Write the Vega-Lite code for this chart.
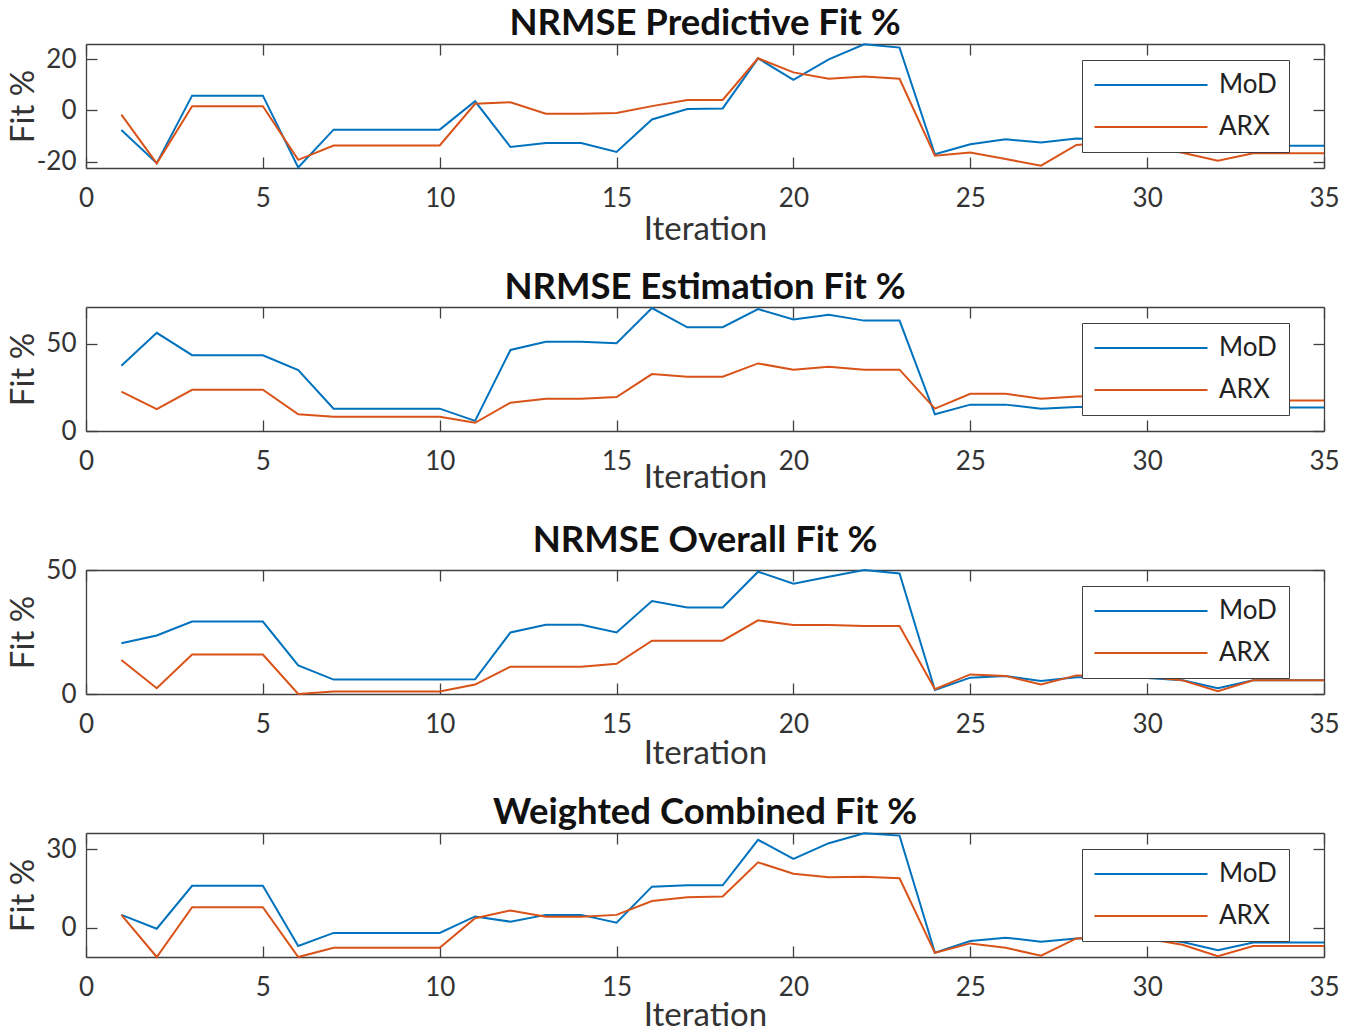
{
  "$schema": "https://vega.github.io/schema/vega-lite/v6.json",
  "background": "white",
  "padding": {"left": 7, "top": 5, "right": 5, "bottom": 5},
  "datasets": {
    "fit": [
      {"panel":1,"iteration":1,"model":"MoD","fit":-7.6},{"panel":1,"iteration":2,"model":"MoD","fit":-20.6},{"panel":1,"iteration":3,"model":"MoD","fit":5.8},{"panel":1,"iteration":4,"model":"MoD","fit":5.8},{"panel":1,"iteration":5,"model":"MoD","fit":5.8},{"panel":1,"iteration":6,"model":"MoD","fit":-22.3},{"panel":1,"iteration":7,"model":"MoD","fit":-7.5},{"panel":1,"iteration":8,"model":"MoD","fit":-7.5},{"panel":1,"iteration":9,"model":"MoD","fit":-7.5},{"panel":1,"iteration":10,"model":"MoD","fit":-7.5},{"panel":1,"iteration":11,"model":"MoD","fit":3.6},{"panel":1,"iteration":12,"model":"MoD","fit":-14.3},{"panel":1,"iteration":13,"model":"MoD","fit":-12.7},{"panel":1,"iteration":14,"model":"MoD","fit":-12.7},{"panel":1,"iteration":15,"model":"MoD","fit":-16.2},{"panel":1,"iteration":16,"model":"MoD","fit":-3.5},{"panel":1,"iteration":17,"model":"MoD","fit":0.6},{"panel":1,"iteration":18,"model":"MoD","fit":0.8},{"panel":1,"iteration":19,"model":"MoD","fit":20.4},{"panel":1,"iteration":20,"model":"MoD","fit":12.0},{"panel":1,"iteration":21,"model":"MoD","fit":20.0},{"panel":1,"iteration":22,"model":"MoD","fit":25.9},{"panel":1,"iteration":23,"model":"MoD","fit":24.6},{"panel":1,"iteration":24,"model":"MoD","fit":-17.1},{"panel":1,"iteration":25,"model":"MoD","fit":-13.2},{"panel":1,"iteration":26,"model":"MoD","fit":-11.3},{"panel":1,"iteration":27,"model":"MoD","fit":-12.5},{"panel":1,"iteration":28,"model":"MoD","fit":-11.0},{"panel":1,"iteration":29,"model":"MoD","fit":-11.5},{"panel":1,"iteration":30,"model":"MoD","fit":-12.0},{"panel":1,"iteration":31,"model":"MoD","fit":-13.0},{"panel":1,"iteration":32,"model":"MoD","fit":-14.5},{"panel":1,"iteration":33,"model":"MoD","fit":-13.8},{"panel":1,"iteration":34,"model":"MoD","fit":-13.8},{"panel":1,"iteration":35,"model":"MoD","fit":-13.8},
      {"panel":1,"iteration":1,"model":"ARX","fit":-1.6},{"panel":1,"iteration":2,"model":"ARX","fit":-20.7},{"panel":1,"iteration":3,"model":"ARX","fit":1.7},{"panel":1,"iteration":4,"model":"ARX","fit":1.7},{"panel":1,"iteration":5,"model":"ARX","fit":1.7},{"panel":1,"iteration":6,"model":"ARX","fit":-19.3},{"panel":1,"iteration":7,"model":"ARX","fit":-13.7},{"panel":1,"iteration":8,"model":"ARX","fit":-13.7},{"panel":1,"iteration":9,"model":"ARX","fit":-13.7},{"panel":1,"iteration":10,"model":"ARX","fit":-13.7},{"panel":1,"iteration":11,"model":"ARX","fit":2.6},{"panel":1,"iteration":12,"model":"ARX","fit":3.2},{"panel":1,"iteration":13,"model":"ARX","fit":-1.3},{"panel":1,"iteration":14,"model":"ARX","fit":-1.3},{"panel":1,"iteration":15,"model":"ARX","fit":-1.0},{"panel":1,"iteration":16,"model":"ARX","fit":1.7},{"panel":1,"iteration":17,"model":"ARX","fit":4.1},{"panel":1,"iteration":18,"model":"ARX","fit":4.1},{"panel":1,"iteration":19,"model":"ARX","fit":20.4},{"panel":1,"iteration":20,"model":"ARX","fit":14.9},{"panel":1,"iteration":21,"model":"ARX","fit":12.4},{"panel":1,"iteration":22,"model":"ARX","fit":13.3},{"panel":1,"iteration":23,"model":"ARX","fit":12.4},{"panel":1,"iteration":24,"model":"ARX","fit":-17.7},{"panel":1,"iteration":25,"model":"ARX","fit":-16.4},{"panel":1,"iteration":26,"model":"ARX","fit":-19.0},{"panel":1,"iteration":27,"model":"ARX","fit":-21.6},{"panel":1,"iteration":28,"model":"ARX","fit":-13.5},{"panel":1,"iteration":29,"model":"ARX","fit":-12.5},{"panel":1,"iteration":30,"model":"ARX","fit":-14.5},{"panel":1,"iteration":31,"model":"ARX","fit":-16.5},{"panel":1,"iteration":32,"model":"ARX","fit":-19.7},{"panel":1,"iteration":33,"model":"ARX","fit":-16.7},{"panel":1,"iteration":34,"model":"ARX","fit":-16.7},{"panel":1,"iteration":35,"model":"ARX","fit":-16.7},
      {"panel":2,"iteration":1,"model":"MoD","fit":37.4},{"panel":2,"iteration":2,"model":"MoD","fit":56.2},{"panel":2,"iteration":3,"model":"MoD","fit":43.4},{"panel":2,"iteration":4,"model":"MoD","fit":43.4},{"panel":2,"iteration":5,"model":"MoD","fit":43.4},{"panel":2,"iteration":6,"model":"MoD","fit":34.9},{"panel":2,"iteration":7,"model":"MoD","fit":12.8},{"panel":2,"iteration":8,"model":"MoD","fit":12.8},{"panel":2,"iteration":9,"model":"MoD","fit":12.8},{"panel":2,"iteration":10,"model":"MoD","fit":12.8},{"panel":2,"iteration":11,"model":"MoD","fit":5.8},{"panel":2,"iteration":12,"model":"MoD","fit":46.4},{"panel":2,"iteration":13,"model":"MoD","fit":51.1},{"panel":2,"iteration":14,"model":"MoD","fit":51.1},{"panel":2,"iteration":15,"model":"MoD","fit":50.2},{"panel":2,"iteration":16,"model":"MoD","fit":70.4},{"panel":2,"iteration":17,"model":"MoD","fit":59.4},{"panel":2,"iteration":18,"model":"MoD","fit":59.4},{"panel":2,"iteration":19,"model":"MoD","fit":69.8},{"panel":2,"iteration":20,"model":"MoD","fit":63.8},{"panel":2,"iteration":21,"model":"MoD","fit":66.6},{"panel":2,"iteration":22,"model":"MoD","fit":63.2},{"panel":2,"iteration":23,"model":"MoD","fit":63.2},{"panel":2,"iteration":24,"model":"MoD","fit":9.6},{"panel":2,"iteration":25,"model":"MoD","fit":15.1},{"panel":2,"iteration":26,"model":"MoD","fit":15.1},{"panel":2,"iteration":27,"model":"MoD","fit":12.8},{"panel":2,"iteration":28,"model":"MoD","fit":13.8},{"panel":2,"iteration":29,"model":"MoD","fit":14.0},{"panel":2,"iteration":30,"model":"MoD","fit":14.5},{"panel":2,"iteration":31,"model":"MoD","fit":14.0},{"panel":2,"iteration":32,"model":"MoD","fit":13.5},{"panel":2,"iteration":33,"model":"MoD","fit":13.4},{"panel":2,"iteration":34,"model":"MoD","fit":13.4},{"panel":2,"iteration":35,"model":"MoD","fit":13.4},
      {"panel":2,"iteration":1,"model":"ARX","fit":22.6},{"panel":2,"iteration":2,"model":"ARX","fit":12.5},{"panel":2,"iteration":3,"model":"ARX","fit":23.6},{"panel":2,"iteration":4,"model":"ARX","fit":23.6},{"panel":2,"iteration":5,"model":"ARX","fit":23.6},{"panel":2,"iteration":6,"model":"ARX","fit":9.6},{"panel":2,"iteration":7,"model":"ARX","fit":8.1},{"panel":2,"iteration":8,"model":"ARX","fit":8.1},{"panel":2,"iteration":9,"model":"ARX","fit":8.1},{"panel":2,"iteration":10,"model":"ARX","fit":8.1},{"panel":2,"iteration":11,"model":"ARX","fit":4.7},{"panel":2,"iteration":12,"model":"ARX","fit":16.2},{"panel":2,"iteration":13,"model":"ARX","fit":18.5},{"panel":2,"iteration":14,"model":"ARX","fit":18.5},{"panel":2,"iteration":15,"model":"ARX","fit":19.4},{"panel":2,"iteration":16,"model":"ARX","fit":32.6},{"panel":2,"iteration":17,"model":"ARX","fit":31.1},{"panel":2,"iteration":18,"model":"ARX","fit":31.1},{"panel":2,"iteration":19,"model":"ARX","fit":38.7},{"panel":2,"iteration":20,"model":"ARX","fit":35.1},{"panel":2,"iteration":21,"model":"ARX","fit":36.8},{"panel":2,"iteration":22,"model":"ARX","fit":35.1},{"panel":2,"iteration":23,"model":"ARX","fit":35.1},{"panel":2,"iteration":24,"model":"ARX","fit":12.8},{"panel":2,"iteration":25,"model":"ARX","fit":21.3},{"panel":2,"iteration":26,"model":"ARX","fit":21.3},{"panel":2,"iteration":27,"model":"ARX","fit":18.5},{"panel":2,"iteration":28,"model":"ARX","fit":19.8},{"panel":2,"iteration":29,"model":"ARX","fit":20.0},{"panel":2,"iteration":30,"model":"ARX","fit":19.0},{"panel":2,"iteration":31,"model":"ARX","fit":18.0},{"panel":2,"iteration":32,"model":"ARX","fit":17.5},{"panel":2,"iteration":33,"model":"ARX","fit":17.5},{"panel":2,"iteration":34,"model":"ARX","fit":17.5},{"panel":2,"iteration":35,"model":"ARX","fit":17.5},
      {"panel":3,"iteration":1,"model":"MoD","fit":20.5},{"panel":3,"iteration":2,"model":"MoD","fit":23.6},{"panel":3,"iteration":3,"model":"MoD","fit":29.2},{"panel":3,"iteration":4,"model":"MoD","fit":29.2},{"panel":3,"iteration":5,"model":"MoD","fit":29.2},{"panel":3,"iteration":6,"model":"MoD","fit":11.5},{"panel":3,"iteration":7,"model":"MoD","fit":5.8},{"panel":3,"iteration":8,"model":"MoD","fit":5.8},{"panel":3,"iteration":9,"model":"MoD","fit":5.8},{"panel":3,"iteration":10,"model":"MoD","fit":5.8},{"panel":3,"iteration":11,"model":"MoD","fit":5.9},{"panel":3,"iteration":12,"model":"MoD","fit":24.8},{"panel":3,"iteration":13,"model":"MoD","fit":27.9},{"panel":3,"iteration":14,"model":"MoD","fit":27.9},{"panel":3,"iteration":15,"model":"MoD","fit":24.8},{"panel":3,"iteration":16,"model":"MoD","fit":37.5},{"panel":3,"iteration":17,"model":"MoD","fit":34.9},{"panel":3,"iteration":18,"model":"MoD","fit":34.9},{"panel":3,"iteration":19,"model":"MoD","fit":49.3},{"panel":3,"iteration":20,"model":"MoD","fit":44.5},{"panel":3,"iteration":21,"model":"MoD","fit":47.3},{"panel":3,"iteration":22,"model":"MoD","fit":50.0},{"panel":3,"iteration":23,"model":"MoD","fit":48.6},{"panel":3,"iteration":24,"model":"MoD","fit":1.6},{"panel":3,"iteration":25,"model":"MoD","fit":6.6},{"panel":3,"iteration":26,"model":"MoD","fit":7.3},{"panel":3,"iteration":27,"model":"MoD","fit":5.2},{"panel":3,"iteration":28,"model":"MoD","fit":6.8},{"panel":3,"iteration":29,"model":"MoD","fit":7.0},{"panel":3,"iteration":30,"model":"MoD","fit":6.5},{"panel":3,"iteration":31,"model":"MoD","fit":5.5},{"panel":3,"iteration":32,"model":"MoD","fit":2.3},{"panel":3,"iteration":33,"model":"MoD","fit":5.5},{"panel":3,"iteration":34,"model":"MoD","fit":5.5},{"panel":3,"iteration":35,"model":"MoD","fit":5.5},
      {"panel":3,"iteration":1,"model":"ARX","fit":13.7},{"panel":3,"iteration":2,"model":"ARX","fit":2.3},{"panel":3,"iteration":3,"model":"ARX","fit":15.9},{"panel":3,"iteration":4,"model":"ARX","fit":15.9},{"panel":3,"iteration":5,"model":"ARX","fit":15.9},{"panel":3,"iteration":6,"model":"ARX","fit":0.0},{"panel":3,"iteration":7,"model":"ARX","fit":1.0},{"panel":3,"iteration":8,"model":"ARX","fit":1.0},{"panel":3,"iteration":9,"model":"ARX","fit":1.0},{"panel":3,"iteration":10,"model":"ARX","fit":1.0},{"panel":3,"iteration":11,"model":"ARX","fit":3.8},{"panel":3,"iteration":12,"model":"ARX","fit":11.0},{"panel":3,"iteration":13,"model":"ARX","fit":11.0},{"panel":3,"iteration":14,"model":"ARX","fit":11.0},{"panel":3,"iteration":15,"model":"ARX","fit":12.2},{"panel":3,"iteration":16,"model":"ARX","fit":21.5},{"panel":3,"iteration":17,"model":"ARX","fit":21.5},{"panel":3,"iteration":18,"model":"ARX","fit":21.5},{"panel":3,"iteration":19,"model":"ARX","fit":29.7},{"panel":3,"iteration":20,"model":"ARX","fit":27.8},{"panel":3,"iteration":21,"model":"ARX","fit":27.8},{"panel":3,"iteration":22,"model":"ARX","fit":27.4},{"panel":3,"iteration":23,"model":"ARX","fit":27.4},{"panel":3,"iteration":24,"model":"ARX","fit":1.9},{"panel":3,"iteration":25,"model":"ARX","fit":7.9},{"panel":3,"iteration":26,"model":"ARX","fit":7.3},{"panel":3,"iteration":27,"model":"ARX","fit":3.8},{"panel":3,"iteration":28,"model":"ARX","fit":7.5},{"panel":3,"iteration":29,"model":"ARX","fit":7.5},{"panel":3,"iteration":30,"model":"ARX","fit":7.0},{"panel":3,"iteration":31,"model":"ARX","fit":5.5},{"panel":3,"iteration":32,"model":"ARX","fit":1.1},{"panel":3,"iteration":33,"model":"ARX","fit":5.5},{"panel":3,"iteration":34,"model":"ARX","fit":5.5},{"panel":3,"iteration":35,"model":"ARX","fit":5.5},
      {"panel":4,"iteration":1,"model":"MoD","fit":4.9},{"panel":4,"iteration":2,"model":"MoD","fit":-0.4},{"panel":4,"iteration":3,"model":"MoD","fit":16.0},{"panel":4,"iteration":4,"model":"MoD","fit":16.0},{"panel":4,"iteration":5,"model":"MoD","fit":16.0},{"panel":4,"iteration":6,"model":"MoD","fit":-7.0},{"panel":4,"iteration":7,"model":"MoD","fit":-2.0},{"panel":4,"iteration":8,"model":"MoD","fit":-2.0},{"panel":4,"iteration":9,"model":"MoD","fit":-2.0},{"panel":4,"iteration":10,"model":"MoD","fit":-2.0},{"panel":4,"iteration":11,"model":"MoD","fit":4.3},{"panel":4,"iteration":12,"model":"MoD","fit":2.3},{"panel":4,"iteration":13,"model":"MoD","fit":4.9},{"panel":4,"iteration":14,"model":"MoD","fit":4.9},{"panel":4,"iteration":15,"model":"MoD","fit":1.9},{"panel":4,"iteration":16,"model":"MoD","fit":15.7},{"panel":4,"iteration":17,"model":"MoD","fit":16.2},{"panel":4,"iteration":18,"model":"MoD","fit":16.2},{"panel":4,"iteration":19,"model":"MoD","fit":33.6},{"panel":4,"iteration":20,"model":"MoD","fit":26.3},{"panel":4,"iteration":21,"model":"MoD","fit":32.3},{"panel":4,"iteration":22,"model":"MoD","fit":36.1},{"panel":4,"iteration":23,"model":"MoD","fit":35.2},{"panel":4,"iteration":24,"model":"MoD","fit":-9.6},{"panel":4,"iteration":25,"model":"MoD","fit":-5.1},{"panel":4,"iteration":26,"model":"MoD","fit":-3.8},{"panel":4,"iteration":27,"model":"MoD","fit":-5.4},{"panel":4,"iteration":28,"model":"MoD","fit":-4.1},{"panel":4,"iteration":29,"model":"MoD","fit":-3.8},{"panel":4,"iteration":30,"model":"MoD","fit":-4.0},{"panel":4,"iteration":31,"model":"MoD","fit":-5.5},{"panel":4,"iteration":32,"model":"MoD","fit":-8.6},{"panel":4,"iteration":33,"model":"MoD","fit":-5.7},{"panel":4,"iteration":34,"model":"MoD","fit":-5.7},{"panel":4,"iteration":35,"model":"MoD","fit":-5.7},
      {"panel":4,"iteration":1,"model":"ARX","fit":4.9},{"panel":4,"iteration":2,"model":"ARX","fit":-11.2},{"panel":4,"iteration":3,"model":"ARX","fit":7.8},{"panel":4,"iteration":4,"model":"ARX","fit":7.8},{"panel":4,"iteration":5,"model":"ARX","fit":7.8},{"panel":4,"iteration":6,"model":"ARX","fit":-11.2},{"panel":4,"iteration":7,"model":"ARX","fit":-7.7},{"panel":4,"iteration":8,"model":"ARX","fit":-7.7},{"panel":4,"iteration":9,"model":"ARX","fit":-7.7},{"panel":4,"iteration":10,"model":"ARX","fit":-7.7},{"panel":4,"iteration":11,"model":"ARX","fit":3.6},{"panel":4,"iteration":12,"model":"ARX","fit":6.6},{"panel":4,"iteration":13,"model":"ARX","fit":4.2},{"panel":4,"iteration":14,"model":"ARX","fit":4.2},{"panel":4,"iteration":15,"model":"ARX","fit":4.9},{"panel":4,"iteration":16,"model":"ARX","fit":10.2},{"panel":4,"iteration":17,"model":"ARX","fit":11.6},{"panel":4,"iteration":18,"model":"ARX","fit":11.9},{"panel":4,"iteration":19,"model":"ARX","fit":25.0},{"panel":4,"iteration":20,"model":"ARX","fit":20.6},{"panel":4,"iteration":21,"model":"ARX","fit":19.3},{"panel":4,"iteration":22,"model":"ARX","fit":19.5},{"panel":4,"iteration":23,"model":"ARX","fit":18.9},{"panel":4,"iteration":24,"model":"ARX","fit":-9.6},{"panel":4,"iteration":25,"model":"ARX","fit":-6.0},{"panel":4,"iteration":26,"model":"ARX","fit":-7.7},{"panel":4,"iteration":27,"model":"ARX","fit":-10.7},{"panel":4,"iteration":28,"model":"ARX","fit":-4.1},{"panel":4,"iteration":29,"model":"ARX","fit":-3.5},{"panel":4,"iteration":30,"model":"ARX","fit":-4.2},{"panel":4,"iteration":31,"model":"ARX","fit":-6.5},{"panel":4,"iteration":32,"model":"ARX","fit":-10.9},{"panel":4,"iteration":33,"model":"ARX","fit":-7.0},{"panel":4,"iteration":34,"model":"ARX","fit":-7.0},{"panel":4,"iteration":35,"model":"ARX","fit":-7.0}
    ]
  },
  "config": {
    "font": "Lato",
    "view": {"stroke": null},
    "axis": {
      "grid": false,
      "domainColor": "#404040", "tickColor": "#404040", "domainWidth": 1.3, "tickWidth": 1.3,
      "labelColor": "#333333", "titleColor": "#333333",
      "labelFont": "Lato", "labelFontSize": 26,
      "titleFont": "Lato", "titleFontSize": 33, "titleFontWeight": "normal",
      "tickSize": -11
    },
    "axisX": {"labelPadding": 28, "labelFlush": false, "labelOverlap": false},
    "axisY": {"labelPadding": 21, "labelOverlap": false, "labelExpr": "'' + datum.value"},
    "title": {"font": "Lato", "fontSize": 36.5, "fontWeight": "bold", "color": "#111111", "offset": -2},
    "legend": {
      "orient": "none", "legendX": 996, "legendY": 16,
      "strokeColor": "#404040", "fillColor": "white", "padding": 12,
      "symbolType": "M-5,0L5,0", "symbolSize": 511, "symbolStrokeWidth": 2.2,
      "symbolOffset": 44, "labelOffset": 55,
      "labelFont": "Lato", "labelFontSize": 26, "labelColor": "#222222",
      "rowPadding": 16, "titlePadding": 0
    },
    "line": {"strokeWidth": 2}
  },
  "spacing": 139,
  "bounds": "flush",
  "resolve": {"legend": {"color": "independent"}},
  "vconcat": [
    {
      "width": 1238, "height": 124,
      "title": "NRMSE Predictive Fit %",
      "data": {"name": "fit"},
      "transform": [{"filter": "datum.panel == 1"}],
      "layer": [
        {"mark": "line", "encoding": {
          "x": {"field": "iteration", "type": "quantitative", "scale": {"domain": [0, 35], "nice": false}, "axis": {"values": [0,5,10,15,20,25,30,35], "title": "Iteration", "titleY": 61, "titleBaseline": "middle"}},
          "y": {"field": "fit", "type": "quantitative", "scale": {"domain": [-22.5, 26], "nice": false, "zero": false}, "axis": {"values": [-20,0,20], "title": "Fit %", "titleX": -63, "titleBaseline": "middle"}},
          "color": {"field": "model", "type": "nominal", "scale": {"domain": ["MoD","ARX"], "range": ["#0072BD","#D95319"]}, "legend": {"title": null}}
        }},
        {"mark": {"type": "point", "opacity": 0}, "encoding": {
          "x": {"field": "iteration", "type": "quantitative", "scale": {"domain": [0, 35], "nice": false}, "axis": {"orient": "top", "values": [0,5,10,15,20,25,30,35], "labels": false, "title": null}},
          "y": {"field": "fit", "type": "quantitative", "scale": {"domain": [-22.5, 26], "nice": false, "zero": false}, "axis": {"orient": "right", "values": [-20,0,20], "labels": false, "title": null}}
        }}
      ],
      "resolve": {"axis": {"x": "independent", "y": "independent"}}
    },
    {
      "width": 1238, "height": 124,
      "title": "NRMSE Estimation Fit %",
      "data": {"name": "fit"},
      "transform": [{"filter": "datum.panel == 2"}],
      "layer": [
        {"mark": "line", "encoding": {
          "x": {"field": "iteration", "type": "quantitative", "scale": {"domain": [0, 35], "nice": false}, "axis": {"values": [0,5,10,15,20,25,30,35], "title": "Iteration", "titleY": 46, "titleBaseline": "middle"}},
          "y": {"field": "fit", "type": "quantitative", "scale": {"domain": [0, 71], "nice": false, "zero": false}, "axis": {"values": [0,50], "title": "Fit %", "titleX": -63, "titleBaseline": "middle"}},
          "color": {"field": "model", "type": "nominal", "scale": {"domain": ["MoD","ARX"], "range": ["#0072BD","#D95319"]}, "legend": {"title": null}}
        }},
        {"mark": {"type": "point", "opacity": 0}, "encoding": {
          "x": {"field": "iteration", "type": "quantitative", "scale": {"domain": [0, 35], "nice": false}, "axis": {"orient": "top", "values": [0,5,10,15,20,25,30,35], "labels": false, "title": null}},
          "y": {"field": "fit", "type": "quantitative", "scale": {"domain": [0, 71], "nice": false, "zero": false}, "axis": {"orient": "right", "values": [0,50], "labels": false, "title": null}}
        }}
      ],
      "resolve": {"axis": {"x": "independent", "y": "independent"}}
    },
    {
      "width": 1238, "height": 124,
      "title": "NRMSE Overall Fit %",
      "data": {"name": "fit"},
      "transform": [{"filter": "datum.panel == 3"}],
      "layer": [
        {"mark": "line", "encoding": {
          "x": {"field": "iteration", "type": "quantitative", "scale": {"domain": [0, 35], "nice": false}, "axis": {"values": [0,5,10,15,20,25,30,35], "title": "Iteration", "titleY": 59, "titleBaseline": "middle"}},
          "y": {"field": "fit", "type": "quantitative", "scale": {"domain": [0, 50], "nice": false, "zero": false}, "axis": {"values": [0,50], "title": "Fit %", "titleX": -63, "titleBaseline": "middle"}},
          "color": {"field": "model", "type": "nominal", "scale": {"domain": ["MoD","ARX"], "range": ["#0072BD","#D95319"]}, "legend": {"title": null}}
        }},
        {"mark": {"type": "point", "opacity": 0}, "encoding": {
          "x": {"field": "iteration", "type": "quantitative", "scale": {"domain": [0, 35], "nice": false}, "axis": {"orient": "top", "values": [0,5,10,15,20,25,30,35], "labels": false, "title": null}},
          "y": {"field": "fit", "type": "quantitative", "scale": {"domain": [0, 50], "nice": false, "zero": false}, "axis": {"orient": "right", "values": [0,50], "labels": false, "title": null}}
        }}
      ],
      "resolve": {"axis": {"x": "independent", "y": "independent"}}
    },
    {
      "width": 1238, "height": 124,
      "title": "Weighted Combined Fit %",
      "data": {"name": "fit"},
      "transform": [{"filter": "datum.panel == 4"}],
      "layer": [
        {"mark": "line", "encoding": {
          "x": {"field": "iteration", "type": "quantitative", "scale": {"domain": [0, 35], "nice": false}, "axis": {"values": [0,5,10,15,20,25,30,35], "title": "Iteration", "titleY": 58, "titleBaseline": "middle"}},
          "y": {"field": "fit", "type": "quantitative", "scale": {"domain": [-11.2, 36.2], "nice": false, "zero": false}, "axis": {"values": [0,30], "title": "Fit %", "titleX": -63, "titleBaseline": "middle"}},
          "color": {"field": "model", "type": "nominal", "scale": {"domain": ["MoD","ARX"], "range": ["#0072BD","#D95319"]}, "legend": {"title": null}}
        }},
        {"mark": {"type": "point", "opacity": 0}, "encoding": {
          "x": {"field": "iteration", "type": "quantitative", "scale": {"domain": [0, 35], "nice": false}, "axis": {"orient": "top", "values": [0,5,10,15,20,25,30,35], "labels": false, "title": null}},
          "y": {"field": "fit", "type": "quantitative", "scale": {"domain": [-11.2, 36.2], "nice": false, "zero": false}, "axis": {"orient": "right", "values": [0,30], "labels": false, "title": null}}
        }}
      ],
      "resolve": {"axis": {"x": "independent", "y": "independent"}}
    }
  ]
}
